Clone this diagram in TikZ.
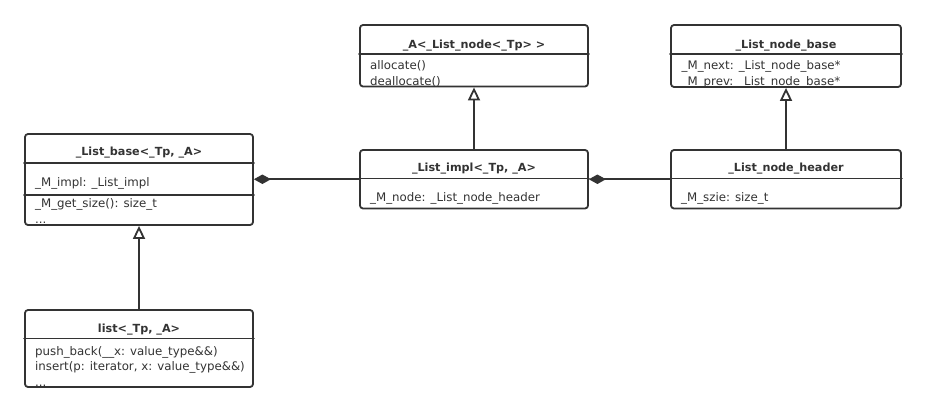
\documentclass[tikz,border=0pt]{standalone}
\usepackage{fontspec}
\setmainfont{DejaVu Sans}
\usetikzlibrary{arrows.meta}
\definecolor{umlgray}{HTML}{333333}

\begin{document}
\begin{tikzpicture}[x=1pt, y=-1pt, line cap=round, line join=round,
  classbox/.style={draw=umlgray, line width=1.8pt, rounded corners=3pt, fill=white, inner sep=0pt},
  sepline/.style={draw=umlgray, line width=1.8pt},
  titletxt/.style={font=\fontsize{11.2}{14}\selectfont\bfseries, text=umlgray, inner sep=0pt, anchor=base},
  membertxt/.style={font=\fontsize{11.8}{14}\selectfont, text=umlgray, inner sep=0pt, anchor=base west},
  inherit/.style={draw=umlgray, line width=1.8pt, -{Triangle[open, length=13pt, width=12pt, fill=white]}},
  compose/.style={draw=umlgray, line width=1.8pt, -{Diamond[length=17pt, width=9.5pt]}}]

% === Canvas ===
\fill[white] (0,0) rectangle (926,412);
\useasboundingbox (0,0) rectangle (926,412);

% === _List_base<_Tp, _A> ===
\node[classbox, minimum width=228pt, minimum height=91pt] (base) at (139,179.5) {};
\begin{scope}
  \clip[rounded corners=3pt] (base.north west) rectangle (base.south east);
  \node[titletxt] (base-title) at (139,155) {\_List\_base<\_Tp, \_A>};
  \node[membertxt] (base-impl) at (35,186) {\_M\_impl: \_List\_impl};
  \node[membertxt] (base-size) at (35,207.5) {\_M\_get\_size(): size\_t};
  \node[membertxt] (base-more) at (35,223) {...};
\end{scope}
\draw[sepline] (base.west |- 0,163) -- (base.east |- 0,163);
\draw[sepline] (base.west |- 0,195) -- (base.east |- 0,195);

% === list<_Tp, _A> ===
\node[classbox, minimum width=228pt, minimum height=77pt] (list) at (139,348.5) {};
\begin{scope}
  \clip[rounded corners=3pt] (list.north west) rectangle (list.south east);
  \node[titletxt] (list-title) at (139,332.5) {list<\_Tp, \_A>};
  \node[membertxt] (list-push) at (35,355) {push\_back(\_\_x: value\_type\&\&)};
  \node[membertxt] (list-insert) at (35,370) {insert(p: iterator, x: value\_type\&\&)};
  \node[membertxt] (list-more) at (35,386) {...};
\end{scope}
\draw[sepline] (list.west |- 0,338.5) -- (list.east |- 0,338.5);

% === _A<_List_node<_Tp> > ===
\node[classbox, minimum width=228pt, minimum height=61.5pt] (alloc) at (474,55.75) {};
\begin{scope}
  \clip[rounded corners=3pt] (alloc.north west) rectangle (alloc.south east);
  \node[titletxt] (alloc-title) at (474,48.5) {\_A<\_List\_node<\_Tp> >};
  \node[membertxt] (alloc-get) at (370,70) {allocate()};
  \node[membertxt] (alloc-free) at (370,85) {deallocate()};
\end{scope}
\draw[sepline] (alloc.west |- 0,54) -- (alloc.east |- 0,54);

% === _List_node_base ===
\node[classbox, minimum width=230pt, minimum height=62pt] (nodebase) at (786,56) {};
\begin{scope}
  \clip[rounded corners=3pt] (nodebase.north west) rectangle (nodebase.south east);
  \node[titletxt] (nodebase-title) at (786,48.5) {\_List\_node\_base};
  \node[membertxt] (nodebase-next) at (681.5,70) {\_M\_next: \_List\_node\_base*};
  \node[membertxt] (nodebase-prev) at (681.5,85) {\_M\_prev: \_List\_node\_base*};
\end{scope}
\draw[sepline] (nodebase.west |- 0,54) -- (nodebase.east |- 0,54);

% === _List_impl<_Tp, _A> ===
\node[classbox, minimum width=228pt, minimum height=58.5pt] (impl) at (474,179.25) {};
\node[titletxt] (impl-title) at (474,171) {\_List\_impl<\_Tp, \_A>};
\node[membertxt] (impl-node) at (370,201) {\_M\_node: \_List\_node\_header};
\draw[sepline] (impl.west |- 0,178.5) -- (impl.east |- 0,178.5);

% === _List_node_header ===
\node[classbox, minimum width=230pt, minimum height=58.5pt] (header) at (786,179.25) {};
\node[titletxt] (header-title) at (786,171) {\_List\_node\_header};
\node[membertxt] (header-size) at (681,201) {\_M\_szie: size\_t};
\draw[sepline] (header.west |- 0,178.5) -- (header.east |- 0,178.5);

% === Generalisation ===
\draw[inherit] (list.north) -- (base.south);
\draw[inherit] (impl.north) -- (alloc.south);
\draw[inherit] (header.north) -- (nodebase.south);

% === Composition ===
\draw[compose] (impl.west) -- (base.east |- impl.west);
\draw[compose] (header.west) -- (impl.east);
\end{tikzpicture}
\end{document}
